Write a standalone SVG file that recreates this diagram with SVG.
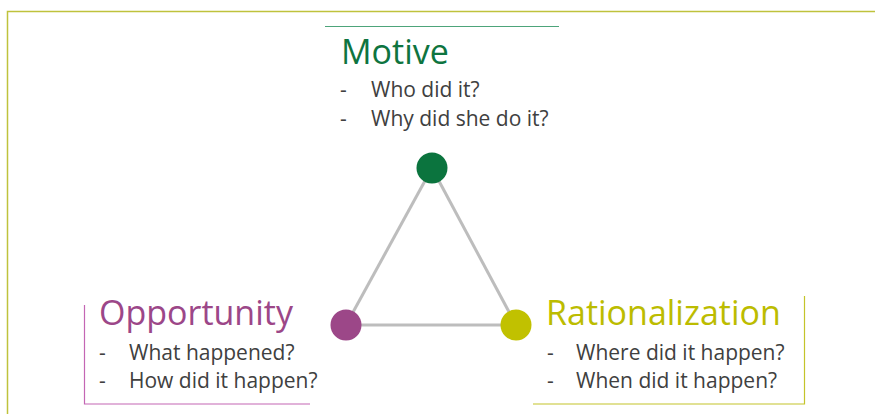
<svg xmlns="http://www.w3.org/2000/svg" width="875" height="414" viewBox="0 0 875 414">
<style>
.title{font-family:"Open Sans","Liberation Sans",sans-serif;font-size:34px}
.item{font-family:"Open Sans","Liberation Sans",sans-serif;font-size:21px;fill:#404040}
.edge{stroke:#BDBDBD;stroke-width:3;fill:none}
</style>
<rect width="875" height="414" fill="#ffffff"/>
<path d="M7.5 414 V11.5 H875" fill="none" stroke="#BFC23C" stroke-width="1.5"/>
<g id="connectors">
<line class="edge" x1="432" y1="168" x2="346" y2="325"/>
<line class="edge" x1="432" y1="168" x2="516" y2="325"/>
<line class="edge" x1="346" y1="325" x2="516" y2="325"/>
</g>
<g id="motive">
<line x1="325" y1="26.5" x2="559" y2="26.5" stroke="#4DA47A" stroke-width="1.2"/>
<text class="title" x="341" y="64" fill="#0E7440">Motive</text>
<text class="item" x="340" y="97">-</text>
<text class="item" x="371" y="97">Who did it?</text>
<text class="item" x="340" y="126">-</text>
<text class="item" x="371" y="126">Why did she do it?</text>
<circle cx="432" cy="168" r="15.5" fill="#0B743E"/>
</g>
<g id="opportunity">
<path d="M84.5 305 V404 H310" fill="none" stroke="#C466B4" stroke-width="1.2"/>
<text class="title" x="99" y="325" fill="#9C4788">Opportunity</text>
<text class="item" x="99" y="360">-</text>
<text class="item" x="129" y="360">What happened?</text>
<text class="item" x="99" y="388">-</text>
<text class="item" x="129" y="388">How did it happen?</text>
<circle cx="346" cy="325" r="15.5" fill="#9C4788"/>
</g>
<g id="rationalization">
<path d="M804.5 296 V404 H533" fill="none" stroke="#C4C42A" stroke-width="1.2"/>
<text class="title" x="546" y="325" fill="#BCBC00">Rationalization</text>
<text class="item" x="547" y="360">-</text>
<text class="item" x="576" y="360">Where did it happen?</text>
<text class="item" x="547" y="388">-</text>
<text class="item" x="576" y="388">When did it happen?</text>
<circle cx="516" cy="325" r="15.5" fill="#C1C100"/>
</g>
</svg>
